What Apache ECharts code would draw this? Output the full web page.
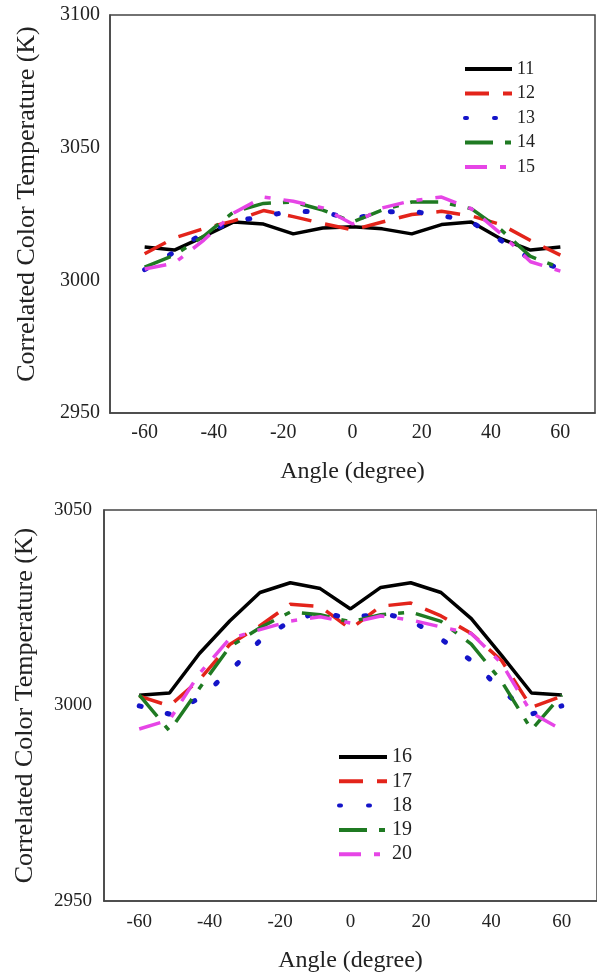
<!DOCTYPE html>
<html><head><meta charset="utf-8">
<script src="https://cdn.jsdelivr.net/npm/echarts@6/dist/echarts.min.js"></script>
<style>html,body{margin:0;padding:0;background:#fff}#c{width:597px;height:974px}</style>
</head><body><div id="c"></div>
<script>
var angles = [-60, -51.4, -42.9, -34.3, -25.7, -17.1, -8.6, 0, 8.6, 17.1, 25.7, 34.3, 42.9, 51.4, 60];
var xTicks = [-60, -40, -20, 0, 20, 40, 60];
// top panel
var s11 = [3012.6, 3011.4, 3016.5, 3022.0, 3021.2, 3017.5, 3019.7, 3020.2, 3019.4, 3017.5, 3021.0, 3022.0, 3015.6, 3011.4, 3012.6];
var s12 = [3010.0, 3016.0, 3019.5, 3022.4, 3026.3, 3024.0, 3021.4, 3019.0, 3022.0, 3024.8, 3026.0, 3024.3, 3021.0, 3015.0, 3009.5];
var s13 = [3004.0, 3010.7, 3018.0, 3022.0, 3024.3, 3026.0, 3025.8, 3023.0, 3025.8, 3026.0, 3024.5, 3022.0, 3015.0, 3008.0, 3004.5];
var s14 = [3005.0, 3009.5, 3016.7, 3025.8, 3029.0, 3029.5, 3026.5, 3022.0, 3026.5, 3029.5, 3029.5, 3027.0, 3019.0, 3009.0, 3004.7];
var s15 = [3004.3, 3006.5, 3015.2, 3025.4, 3031.4, 3029.8, 3027.3, 3021.2, 3027.3, 3030.0, 3031.4, 3027.0, 3017.5, 3007.0, 3003.5];
// bottom panel
var s16 = [3002.6, 3003.2, 3013.3, 3021.6, 3028.9, 3031.4, 3029.9, 3024.7, 3030.2, 3031.4, 3028.9, 3022.2, 3012.8, 3003.2, 3002.7];
var s17 = [3002.4, 2999.9, 3006.6, 3015.6, 3020.4, 3025.9, 3025.3, 3019.6, 3025.4, 3026.2, 3022.9, 3018.4, 3011.5, 2999.5, 3002.4];
var s18 = [2999.9, 2997.8, 3001.9, 3008.7, 3016.6, 3021.6, 3023.9, 3022.2, 3023.7, 3021.9, 3017.0, 3011.5, 3003.9, 2997.8, 2999.9];
var s19 = [3002.7, 2993.5, 3004.4, 3015.0, 3019.9, 3023.9, 3023.2, 3021.4, 3023.2, 3023.9, 3021.5, 3015.7, 3006.2, 2993.8, 3002.7];
var s20 = [2994.0, 2996.3, 3008.2, 3017.1, 3019.4, 3021.6, 3022.7, 3021.1, 3022.9, 3021.9, 3020.1, 3018.4, 3010.8, 2998.1, 2993.8];

var FONT = '"Liberation Serif", serif';
function pairs(v){ return angles.map(function(a,i){ return [a, v[i]]; }); }
var styles = [
  {color:'#000000', type:'solid', width:3.5},
  {color:'#e3241b', type:[24,14], width:3.5},
  {color:'#1414c8', type:[2,27], width:5, cap:'round'},
  {color:'#1f7a22', type:[28,12,6,12], width:3.5},
  {color:'#e645e6', type:[22,13,6,13], width:3.5}
];
var names1 = ['11','12','13','14','15'], names2 = ['16','17','18','19','20'];
var vals1 = [s11,s12,s13,s14,s15], vals2 = [s16,s17,s18,s19,s20];
var series = [];
function addSeries(names, vals, idx){
  names.forEach(function(n,i){
    var st = styles[i];
    series.push({name:n, type:'line', xAxisIndex:idx, yAxisIndex:idx, data:pairs(vals[i]),
      symbol:'none', smooth:false, animation:false,
      lineStyle:{color:st.color, type:st.type, width:st.width, cap:st.cap||'butt'},
      itemStyle:{color:st.color}});
  });
}
addSeries(names1, vals1, 0);
addSeries(names2, vals2, 1);

function xAx(idx){
  return {type:'value', gridIndex:idx, min:-70, max:70, name:'Angle (degree)', nameLocation:'middle', nameGap:idx?48:47,
    nameTextStyle:{fontFamily:FONT, fontSize:24, color:'#222'},
    axisLine:{onZero:false, lineStyle:{color:'#444', width:1.5}}, axisTick:{show:false}, splitLine:{show:false},
    axisLabel:{customValues:xTicks, fontFamily:FONT, fontSize:idx?19:20, color:'#222', margin:idx?12:10}};
}
function yAx(idx, max){
  return {type:'value', gridIndex:idx, min:2950, max:max, interval:50, name:'Correlated Color Temperature (K)',
    nameLocation:'middle', nameGap:idx?66:70,
    nameTextStyle:{fontFamily:FONT, fontSize:26, color:'#222', padding:idx?[0,0,0,0]:[0,0,0,20]},
    axisLine:{show:true, onZero:false, lineStyle:{color:'#444', width:1.5}}, axisTick:{show:false}, splitLine:{show:false},
    axisLabel:{formatter:function(v){return String(v);}, fontFamily:FONT, fontSize:idx?19:20, color:'#222', margin:idx?12:10}};
}
var legendCommon = {orient:'vertical', itemHeight:14, selectedMode:false, padding:0,
  itemStyle:{opacity:0}, lineStyle:{width:4}};
var chart = echarts.init(document.getElementById('c'), null, {renderer:'canvas'});
chart.setOption({
  backgroundColor:'#fff',
  animation:false,
  grid:[
    {left:110, top:15, width:485, height:398, show:true, borderColor:'#444', borderWidth:1.5},
    {left:104, top:510, width:494, height:395, show:true, borderColor:'#444', borderWidth:1.5}
  ],
  xAxis:[xAx(0), xAx(1)],
  yAxis:[yAx(0,3100), yAx(1,3050)],
  legend:[
    Object.assign({}, legendCommon, {data:names1, left:463, top:60, itemGap:6.5, itemWidth:47,
     textStyle:{fontFamily:FONT, fontSize:18, color:'#222'}}),
    Object.assign({}, legendCommon, {data:names2, left:337, top:747, itemGap:4.3, itemWidth:48,
     textStyle:{fontFamily:FONT, fontSize:20, color:'#222'}})
  ],
  series:series
});
</script></body></html>
